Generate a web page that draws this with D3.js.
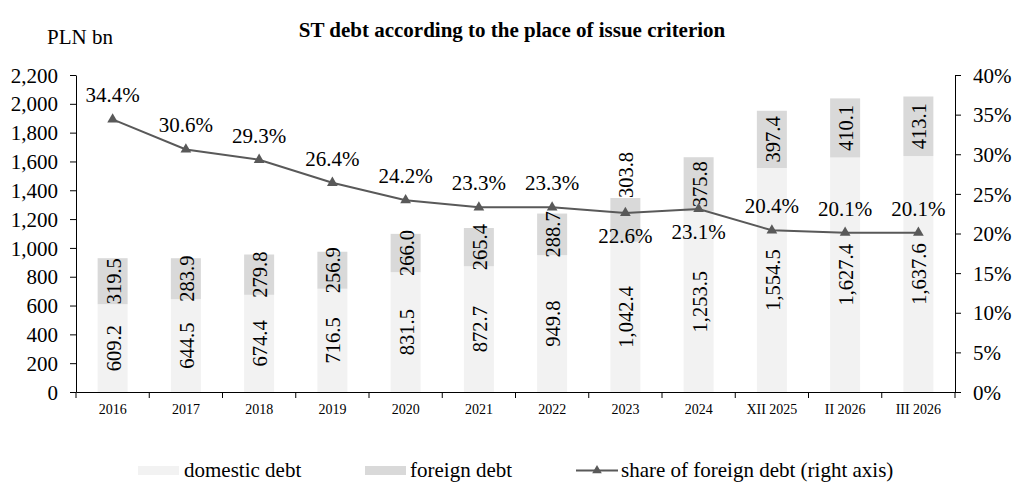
<!DOCTYPE html>
<html><head><meta charset="utf-8">
<script src="https://cdn.jsdelivr.net/npm/d3@7"></script>
<style>body{margin:0;background:#fff}text{font-family:"Liberation Serif","Times New Roman",serif}</style>
</head><body><svg id="c" width="1025" height="503"></svg>
<script>
const categories = ["2016","2017","2018","2019","2020","2021","2022","2023","2024","XII 2025","II 2026","III 2026"];
const domestic = [609.2,644.5,674.4,716.5,831.5,872.7,949.8,1042.4,1253.5,1554.5,1627.4,1637.6];
const foreign = [319.5,283.9,279.8,256.9,266.0,265.4,288.7,303.8,375.8,397.4,410.1,413.1];
const share = [34.4,30.6,29.3,26.4,24.2,23.3,23.3,22.6,23.1,20.4,20.1,20.1];
const shareLabelBelow = [false,false,false,false,false,false,false,true,true,false,false,false];
const foreignLabelAboveBar = [false,false,false,false,false,false,false,true,false,false,false,false];
const leftTicks = d3.range(0,2201,200);
const rightTicks = d3.range(0,41,5);

const svg = d3.select("#c");
const L=76,R=955,T=75,B=392;
const FS=21;
const x = d3.scaleBand().domain(categories).range([L,R]).paddingInner(0).paddingOuter(0);
const yL = d3.scaleLinear().domain([0,2200]).range([B,T]);
const yR = d3.scaleLinear().domain([0,40]).range([B,T]);
const bw = 30;
const fmt = d3.format(",.1f");

// bars
categories.forEach((c,i)=>{
  const cx = x(c)+x.bandwidth()/2;
  svg.append("rect").attr("x",cx-bw/2).attr("width",bw).attr("y",yL(domestic[i])).attr("height",yL(0)-yL(domestic[i])).attr("fill","#f2f2f2");
  svg.append("rect").attr("x",cx-bw/2).attr("width",bw).attr("y",yL(domestic[i]+foreign[i])).attr("height",yL(domestic[i])-yL(domestic[i]+foreign[i])).attr("fill","#d9d9d9");
});

// axes
const gl = svg.append("g").attr("transform",`translate(${L},0)`).call(d3.axisLeft(yL).tickValues(leftTicks).tickFormat(d3.format(",")).tickSize(6).tickSizeOuter(0));
const gr = svg.append("g").attr("transform",`translate(${R},0)`).call(d3.axisRight(yR).tickValues(rightTicks).tickFormat(d=>d+"%").tickSize(6).tickSizeOuter(0));
const gx = svg.append("g").attr("transform",`translate(0,${B})`).call(d3.axisBottom(x).tickSize(0));
[gl,gr,gx].forEach(g=>{g.attr("font-family",null);g.select(".domain").attr("stroke","#000");g.selectAll(".tick line").attr("stroke","#000");g.selectAll("text").attr("fill","#000");});
gl.selectAll("text").attr("font-size",FS).attr("x",-18).attr("dy","0.34em");
gr.selectAll("text").attr("font-size",FS).attr("x",18).attr("dy","0.34em");
gx.selectAll("text").attr("font-size",14).attr("y",22).attr("dy",0);
// x ticks at band boundaries
const bounds = categories.map(c=>x(c)).concat([R]);
svg.append("g").selectAll("line").data(bounds).join("line").attr("x1",d=>d).attr("x2",d=>d).attr("y1",B).attr("y2",B+6).attr("stroke","#000");

// bar labels
categories.forEach((c,i)=>{
  const cx = x(c)+x.bandwidth()/2;
  const yd = (yL(0)+yL(domestic[i]))/2;
  svg.append("text").attr("transform",`translate(${cx+1},${yd}) rotate(-90)`).attr("text-anchor","middle").attr("dominant-baseline","central").attr("font-size",20.5).text(fmt(domestic[i]));
  if (foreignLabelAboveBar[i]) {
    const top = yL(domestic[i]+foreign[i]);
    svg.append("text").attr("transform",`translate(${cx+1},${top}) rotate(-90)`).attr("text-anchor","start").attr("dominant-baseline","central").attr("font-size",20.5).text(fmt(foreign[i]));
  } else {
    const yf = (yL(domestic[i])+yL(domestic[i]+foreign[i]))/2;
    svg.append("text").attr("transform",`translate(${cx+1},${yf}) rotate(-90)`).attr("text-anchor","middle").attr("dominant-baseline","central").attr("font-size",20.5).text(fmt(foreign[i]));
  }
});

// line
const lineColor="#595959";
const line = d3.line().x((d,i)=>x(categories[i])+x.bandwidth()/2).y(d=>yR(d));
svg.append("path").datum(share).attr("d",line).attr("fill","none").attr("stroke",lineColor).attr("stroke-width",2);
const tri = d3.symbol().type(d3.symbolTriangle).size(50);
share.forEach((v,i)=>{
  const cx = x(categories[i])+x.bandwidth()/2;
  svg.append("path").attr("d",tri()).attr("transform",`translate(${cx},${yR(v)})`).attr("fill",lineColor);
  svg.append("text").attr("x",cx).attr("y",shareLabelBelow[i]?yR(v)+30:yR(v)-17).attr("text-anchor","middle").attr("font-size",FS).text(v.toFixed(1)+"%");
});

// titles
svg.append("text").attr("x",512).attr("y",37).attr("text-anchor","middle").attr("font-size",21).attr("font-weight","bold").text("ST debt according to the place of issue criterion");
svg.append("text").attr("x",47).attr("y",44).attr("font-size",FS).text("PLN bn");

// legend
const ly=470.5;
svg.append("rect").attr("x",138).attr("y",ly-4.5).attr("width",41).attr("height",9).attr("fill","#f2f2f2");
svg.append("text").attr("x",184).attr("y",477).attr("font-size",FS).text("domestic debt");
svg.append("rect").attr("x",365).attr("y",ly-4.5).attr("width",41).attr("height",9).attr("fill","#d9d9d9");
svg.append("text").attr("x",410).attr("y",477).attr("font-size",FS).text("foreign debt");
svg.append("line").attr("x1",576).attr("x2",618).attr("y1",ly).attr("y2",ly).attr("stroke",lineColor).attr("stroke-width",2);
svg.append("path").attr("d",d3.symbol().type(d3.symbolTriangle).size(40)()).attr("transform",`translate(597,${ly})`).attr("fill",lineColor);
svg.append("text").attr("x",621).attr("y",477).attr("font-size",FS).text("share of foreign debt (right axis)");
</script></body></html>
